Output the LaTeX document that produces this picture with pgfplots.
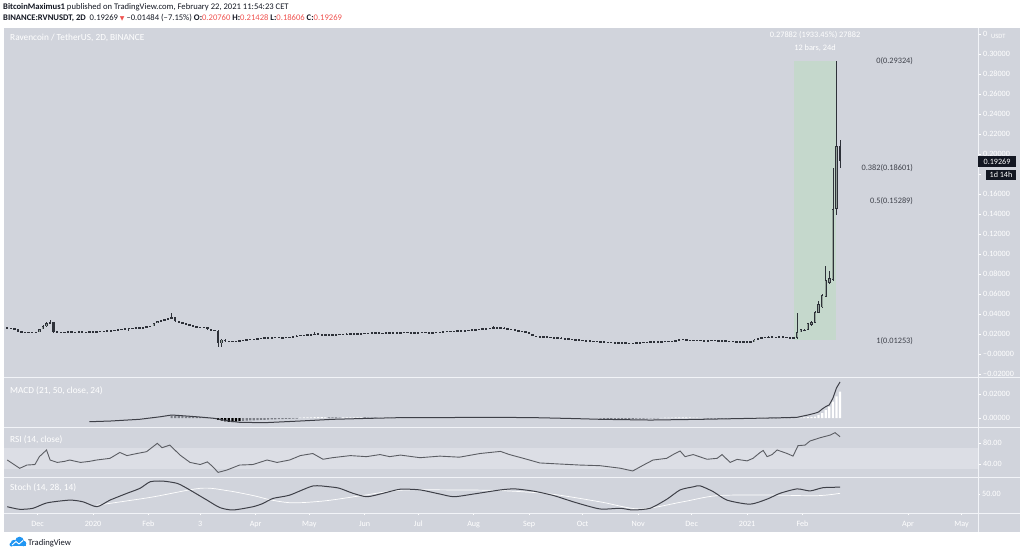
\documentclass[border=0pt]{standalone}
\usepackage{fontspec}
\setmainfont{Carlito}
\newfontfamily\dejavu{DejaVu Sans}
\usepackage{pgfplots}
\usepackage{pgfplotstable}
\pgfplotsset{compat=1.18}

\definecolor{tvbg}{HTML}{D1D4DC}
\definecolor{tvband}{HTML}{DCDEE5}
\definecolor{candle}{HTML}{2E3139}
\definecolor{candlein}{HTML}{94A399}
\definecolor{fibgreen}{HTML}{C5D8CC}
\definecolor{tvred}{HTML}{EF5350}
\definecolor{tvdark}{HTML}{131722}
\definecolor{txtgray}{HTML}{3F424B}
\definecolor{indline}{HTML}{3E4048}
\definecolor{sepline}{HTML}{F2F4F8}
\definecolor{histgray}{HTML}{7C7F87}
\definecolor{tvblue}{HTML}{2196F3}

\newcommand\axfont{\fontsize{8.1}{9}\selectfont}
\newcommand\fibfont{\fontsize{8.3}{9}\selectfont}
\newcommand\hdrfont{\fontsize{8.6}{10}\selectfont}
\newcommand\lblfont{\fontsize{9.3}{10}\selectfont}

% candles: day (from 2020-01-01), open, high, low, close in thousandths of USDT
\pgfplotstableread{
d o h l c
-48 26.5 27.0 25.6 26.0
-46 26.0 26.4 25.1 25.5
-44 25.5 25.9 24.6 25.0
-42 25.0 25.4 22.1 22.5
-40 22.5 22.9 21.6 22.0
-38 22.0 22.4 21.1 21.5
-36 21.5 22.4 21.1 22.0
-34 22.0 22.4 21.4 21.8
-32 21.8 22.4 21.4 22.0
-30 22.0 25.5 21.6 25.0
-28 25.0 28.6 24.6 28.0
-26 28.0 31.6 27.5 31.0
-24 31.0 34.0 30.5 32.0
-22 32.0 32.5 21.5 22.0
-20 22.0 22.5 21.3 22.0
-18 22.0 22.4 21.1 21.5
-16 21.5 22.4 21.1 22.0
-14 22.0 22.7 21.6 22.3
-12 22.3 22.7 21.4 21.8
-10 21.8 22.4 21.4 22.0
-8 22.0 22.6 21.6 22.2
-6 22.2 22.6 21.3 21.7
-4 21.7 22.4 21.3 22.0
-2 22.0 22.9 21.6 22.5
0 22.5 22.9 21.8 22.2
2 22.2 23.2 21.8 22.8
4 22.8 23.2 22.1 22.5
6 22.5 23.4 22.1 23.0
8 23.0 23.7 22.6 23.3
10 23.3 24.0 22.9 23.5
12 23.5 24.4 23.1 24.0
14 24.0 25.4 23.6 25.0
16 25.0 25.4 24.1 24.5
18 24.5 25.9 24.1 25.5
20 25.5 26.4 23.0 26.0
22 26.0 26.4 25.3 25.7
24 25.7 26.6 25.3 26.2
26 26.2 26.6 25.6 26.0
28 26.0 27.2 25.6 26.8
30 26.8 27.9 26.4 27.5
32 27.5 28.4 27.1 28.0
34 28.0 31.5 27.6 31.0
36 31.0 33.5 30.6 33.0
38 33.0 34.5 32.6 34.0
40 34.0 35.5 33.6 35.0
42 35.0 36.5 34.6 36.0
44 36.0 40.7 35.6 37.0
46 37.0 37.5 32.5 33.0
48 33.0 33.5 31.5 32.0
50 32.0 32.5 30.5 31.0
52 31.0 31.5 29.0 29.5
54 29.5 30.0 28.5 29.0
56 29.0 29.5 27.0 27.5
58 27.5 28.0 26.5 27.0
60 27.0 27.5 26.0 26.5
62 26.5 27.5 26.1 27.0
64 27.0 27.5 24.5 25.0
66 25.0 25.5 23.5 24.0
68 24.0 24.5 22.8 23.3
70 23.3 23.8 7.3 10.7
72 10.7 15.0 6.7 14.5
74 14.5 15.0 12.5 13.0
76 13.0 13.5 12.0 12.5
78 12.5 13.4 12.1 13.0
80 13.0 13.4 12.4 12.8
82 12.8 13.9 12.4 13.5
84 13.5 14.4 13.1 14.0
86 14.0 14.9 13.6 14.5
88 14.5 15.4 14.1 15.0
90 15.0 15.4 14.3 14.7
92 14.7 15.7 14.3 15.3
94 15.3 16.4 14.9 16.0
96 16.0 16.9 15.6 16.5
98 16.5 16.9 15.6 16.0
100 16.0 16.9 15.6 16.5
102 16.5 17.2 16.1 16.8
104 16.8 17.2 15.9 16.3
106 16.3 17.1 15.9 16.7
108 16.7 17.4 16.3 17.0
110 17.0 17.4 16.4 16.8
112 16.8 17.6 16.4 17.2
114 17.2 18.9 16.8 18.5
116 18.5 19.4 18.1 19.0
118 19.0 19.4 18.3 18.7
120 18.7 19.9 18.3 19.5
122 19.5 19.9 18.8 19.2
124 19.2 22.3 18.8 20.5
126 20.5 20.9 19.1 19.5
128 19.5 19.9 18.6 19.0
130 19.0 19.4 18.6 19.0
132 19.0 19.9 18.6 19.5
134 19.5 19.9 18.8 19.2
136 19.2 20.2 18.8 19.8
138 19.8 20.4 19.4 20.0
140 20.0 20.4 19.2 19.6
142 19.6 20.6 19.2 20.2
144 20.2 20.9 19.8 20.5
146 20.5 20.9 19.6 20.0
148 20.0 20.7 19.6 20.3
150 20.3 20.9 19.9 20.5
152 20.5 21.4 20.1 21.0
154 21.0 21.4 20.3 20.7
156 20.7 21.6 20.3 21.2
158 21.2 21.9 20.8 21.5
160 21.5 21.9 20.6 21.0
162 21.0 21.4 20.4 20.8
164 20.8 21.7 20.4 21.3
166 21.3 22.1 20.9 21.7
168 21.7 22.1 20.8 21.2
170 21.2 21.6 20.6 21.0
172 21.0 21.9 20.6 21.5
174 21.5 22.4 21.1 22.0
176 22.0 22.4 21.2 21.6
178 21.6 22.0 20.9 21.3
180 21.3 21.7 20.6 21.0
182 21.0 21.8 20.6 21.4
184 21.4 22.2 21.0 21.8
186 21.8 22.2 21.1 21.5
188 21.5 21.9 20.8 21.2
190 21.2 22.0 20.8 21.6
192 21.6 22.4 21.2 22.0
194 22.0 22.4 21.4 21.8
196 21.8 22.7 21.4 22.3
198 22.3 23.2 21.9 22.8
200 22.8 23.2 22.1 22.5
202 22.5 23.4 22.1 23.0
204 23.0 23.9 22.6 23.5
206 23.5 23.9 22.8 23.2
208 23.2 24.2 22.8 23.8
210 23.8 24.4 23.4 24.0
212 24.0 24.9 23.6 24.5
214 24.5 24.9 23.8 24.2
216 24.2 25.4 23.8 25.0
218 25.0 25.9 24.6 25.5
220 25.5 25.9 24.8 25.2
222 25.2 26.4 24.8 26.0
224 26.0 28.0 25.6 26.5
226 26.5 26.9 25.6 26.0
228 26.0 26.7 25.6 26.3
230 26.3 26.7 25.1 25.5
232 25.5 25.9 24.6 25.0
234 25.0 25.4 24.1 24.5
236 24.5 24.9 23.1 23.5
238 23.5 23.9 22.6 23.0
240 23.0 23.4 22.1 22.5
242 22.5 22.9 21.6 22.0
244 22.0 22.4 19.6 20.0
246 20.0 20.4 17.6 18.0
248 18.0 18.4 17.1 17.5
250 17.5 17.9 16.6 17.0
252 17.0 17.7 16.6 17.3
254 17.3 17.7 16.4 16.8
256 16.8 17.2 16.1 16.5
258 16.5 16.9 15.6 16.0
260 16.0 16.7 15.6 16.3
262 16.3 16.7 15.1 15.5
264 15.5 15.9 14.8 15.2
266 15.2 15.6 14.6 15.0
268 15.0 15.4 14.1 14.5
270 14.5 14.9 13.8 14.2
272 14.2 14.6 13.6 14.0
274 14.0 14.4 13.1 13.5
276 13.5 13.9 12.8 13.2
278 13.2 13.6 12.6 13.0
280 13.0 13.4 12.4 12.8
282 12.8 13.2 12.1 12.5
284 12.5 12.9 11.9 12.3
286 12.3 12.7 11.6 12.0
288 12.0 12.4 11.4 11.8
290 11.8 12.2 11.1 11.5
292 11.5 11.9 10.9 11.3
294 11.3 11.7 10.6 11.0
296 11.0 11.6 10.6 11.2
298 11.2 11.6 10.6 11.0
300 11.0 11.4 10.4 10.8
302 10.8 11.4 10.4 11.0
304 11.0 11.7 10.6 11.3
306 11.3 11.9 10.9 11.5
308 11.5 12.2 11.1 11.8
310 11.8 12.4 11.4 12.0
312 12.0 12.6 11.6 12.2
314 12.2 12.9 11.8 12.5
316 12.5 12.9 11.9 12.3
318 12.3 13.1 11.9 12.7
320 12.7 13.4 12.3 13.0
322 13.0 13.4 12.4 12.8
324 12.8 13.4 12.4 13.0
326 13.0 14.4 12.6 14.0
328 14.0 15.5 13.6 15.0
330 15.0 15.4 14.1 14.5
332 14.5 14.9 13.6 14.0
334 14.0 14.4 13.4 13.8
336 13.8 14.4 13.4 14.0
338 14.0 14.4 13.1 13.5
340 13.5 14.1 13.1 13.7
342 13.7 14.1 12.8 13.2
344 13.2 13.9 12.8 13.5
346 13.5 14.2 13.1 13.8
348 13.8 14.2 12.9 13.3
350 13.3 13.7 12.6 13.0
352 13.0 13.6 12.6 13.2
354 13.2 13.6 12.6 13.0
356 13.0 13.4 12.4 12.8
358 12.8 13.2 12.1 12.5
360 12.5 12.9 11.8 12.2
362 12.2 12.9 11.8 12.5
364 12.5 12.9 11.6 12.0
366 12.0 12.7 11.6 12.3
368 12.3 12.9 11.9 12.5
370 12.5 14.9 12.1 14.5
372 14.5 16.4 14.1 16.0
374 16.0 17.4 15.6 17.0
376 17.0 17.4 16.1 16.5
378 16.5 17.7 16.1 17.3
380 17.3 17.7 16.4 16.8
382 16.8 17.4 16.4 17.0
384 17.0 17.9 16.6 17.5
386 17.5 17.9 16.6 17.0
388 17.0 17.4 16.1 16.5
390 16.5 16.9 15.8 16.2
392 16.2 16.6 15.4 15.8
394 15.8 40.7 15.4 22.3
396 22.3 25.5 21.8 24.7
398 23.0 25.3 22.6 24.5
400 24.5 31.0 24.0 30.7
402 29.0 33.0 28.5 32.3
404 31.3 43.0 30.8 42.3
406 41.3 53.0 40.8 49.7
408 46.7 60.0 46.2 59.0
410 57.3 88.0 56.8 74.0
412 71.0 83.0 70.5 76.0
414 74.0 186.0 73.0 145.0
416 145.0 293.24 139.0 207.6
418 207.6 214.28 186.06 192.69
}\candles

\pgfplotsset{
  pane/.style={
    scale only axis, width=974pt, xmin=-49.8, xmax=495.2,
    anchor=south west,
    axis line style={draw=none},
    xtick=\empty,
    ytick pos=right,
    yticklabel pos=right,
    scaled y ticks=false, scaled x ticks=false,
    tick align=outside,
    major tick length=3pt,
    tick style={draw=white, line width=0.5pt},
    yticklabel style={font=\axfont, text=white, anchor=west, inner sep=0pt, xshift=2pt},
    xticklabel style={font=\axfont, text=white},
    clip=true,
  },
  errbar/.style 2 args={draw=none, mark=none, forget plot,
    error bars/.cd, y dir=both, y explicit, error mark=none,
    error bar style={draw=#1, line width=#2, line cap=butt, solid}},
}

\begin{document}
\begin{tikzpicture}
\useasboundingbox (0,0) rectangle (1024pt,555pt);
\fill[tvbg] (4pt,23.5pt) rectangle (1019.5pt,527pt);

% ---------------- main price pane
\begin{axis}[pane, at={(4pt,177.5pt)}, height=349.5pt,
  ymin=-0.0235, ymax=0.326,
  ytick={-0.02,0,0.02,0.04,0.06,0.08,0.10,0.12,0.14,0.16,0.18,0.20,0.22,0.24,0.26,0.28,0.30,0.32},
  yticklabels={–0.02000,–0.00000,0.02000,0.04000,0.06000,0.08000,0.10000,0.12000,0.14000,0.16000,{},0.20000,0.22000,0.24000,0.26000,0.28000,0.30000,0}]
\fill[fibgreen] (axis cs:392,0.01442) rectangle (axis cs:416,0.29324);
\addplot[errbar={candle}{0.6pt}] table[x=d, y expr={(\thisrow{h}+\thisrow{l})/2000}, y error expr={(\thisrow{h}-\thisrow{l})/2000}] {\candles};
\addplot[errbar={candle}{2.4pt}] table[x=d, y expr={(\thisrow{o}+\thisrow{c})/2000}, y error expr={max(abs(\thisrow{c}-\thisrow{o})/2000,0.0006)}] {\candles};
\addplot[errbar={candlein}{1.0pt}] table[x=d, y expr={(\thisrow{o}+\thisrow{c})/2000}, y error expr={max((\thisrow{c}-\thisrow{o})/2000-0.0008,0)}] {\candles};
\node[anchor=east, inner sep=0pt, font=\fibfont, text=txtgray] at (axis cs:458.9,0.29324) {0(0.29324)};
\node[anchor=east, inner sep=0pt, font=\fibfont, text=txtgray] at (axis cs:458.9,0.18601) {0.382(0.18601)};
\node[anchor=east, inner sep=0pt, font=\fibfont, text=txtgray] at (axis cs:458.9,0.15289) {0.5(0.15289)};
\node[anchor=east, inner sep=0pt, font=\fibfont, text=txtgray] at (axis cs:458.9,0.01253) {1(0.01253)};
\node[inner sep=0pt, font=\fibfont, text=white] at (axis cs:404,0.319) {0.27882 (1933.45\%) 27882};
\node[inner sep=0pt, font=\fibfont, text=white] at (axis cs:404,0.3063) {12 bars, 24d};
\end{axis}

% ---------------- MACD pane
\begin{axis}[pane, at={(4pt,127.7pt)}, height=49.8pt,
  ymin=-0.00775, ymax=0.03375,
  ytick={0,0.02}, yticklabels={0.00000,0.02000}]
\addplot[ybar, bar width=2.2pt, bar shift=0pt, fill=histgray, draw=none] coordinates {
(44,0.0020) (46,0.0018) (48,0.0016) (50,0.0015) (52,0.0013) (54,0.0012) (56,0.0010) (58,0.0009) (60,0.0008) (62,0.0006) (64,0.0004) (66,0.0002)
(84,-0.0024) (86,-0.0022) (88,-0.0020) (90,-0.0019) (92,-0.0017) (94,-0.0016) (96,-0.0015) (98,-0.0014) (100,-0.0012) (102,-0.0011) (104,-0.0010) (106,-0.0009) (108,-0.0008) (110,-0.0007) (112,-0.0006) (114,-0.0005)
(132,0.0006) (134,0.0005) (136,0.0005) (138,0.0004) (152,0.0005) (154,0.0004) (156,0.0004) (158,0.0003)
(284,-0.0006) (286,-0.0007) (288,-0.0008) (290,-0.0008) (292,-0.0009) (294,-0.0009) (296,-0.0008) (298,-0.0008) (300,-0.0007) (302,-0.0007) (304,-0.0006) (306,-0.0005) (308,-0.0005) (310,-0.0004) (312,-0.0004) (314,-0.0003) (316,-0.0003)
(342,-0.0004) (344,-0.0005) (346,-0.0005) (348,-0.0005) (350,-0.0006) (352,-0.0006) (354,-0.0005) (356,-0.0005) (358,-0.0005) (360,-0.0004) (362,-0.0004) (364,-0.0004) (366,-0.0003)
(378,-0.0003) (380,-0.0003) (382,-0.0003) (384,-0.0002) (386,-0.0002) (388,-0.0002) (390,-0.0002) (392,-0.0001)
};
\addplot[ybar, bar width=2.2pt, bar shift=0pt, fill=black, draw=none] coordinates {
(68,-0.0008) (70,-0.0015) (72,-0.0022) (74,-0.0028) (76,-0.0032) (78,-0.0034) (80,-0.0031) (82,-0.0027)
};
\addplot[ybar, bar width=2.2pt, bar shift=0pt, fill=white, draw=none] coordinates {
(116,0.0004) (118,0.0005) (120,0.0006) (122,0.0006) (124,0.0007) (126,0.0007) (128,0.0007) (130,0.0006)
(140,0.0005) (142,0.0005) (144,0.0006) (146,0.0006) (148,0.0005) (150,0.0005)
(160,0.0004) (162,0.0004) (164,0.0005) (166,0.0005) (168,0.0004) (170,0.0004) (172,0.0003)
(318,0.0002) (320,0.0003) (322,0.0004) (324,0.0004) (326,0.0005) (328,0.0006) (330,0.0006) (332,0.0005) (334,0.0005) (336,0.0004) (338,0.0003) (340,0.0002)
(368,0.0002) (370,0.0003) (372,0.0004) (374,0.0004) (376,0.0003)
(394,0.0002) (396,0.0003) (398,0.0005) (400,0.0007) (402,0.0009) (404,0.0012) (406,0.0024) (408,0.0040) (410,0.0065) (412,0.0095) (414,0.0136) (416,0.0180) (418,0.0220)
};
\addplot[indline, line width=1pt] coordinates {
(-2,-0.0031) (10,-0.0025) (26,-0.0011) (38,0.0011) (44,0.0025) (50,0.0019) (60,0.0008) (68,-0.0003) (76,-0.0025) (82,-0.0036) (96,-0.0039) (116,-0.0025) (134,-0.0011) (154,-0.0003) (172,0.0003) (200,0.0004) (226,0.0006) (250,0.0002) (270,-0.0005) (284,-0.0011) (312,-0.0017) (340,-0.0011) (368,-0.0003) (388,0.0003) (394,0.0006) (400,0.0025) (404,0.0040) (406,0.0050) (408,0.0075) (410,0.0095) (412,0.0110) (414,0.0165) (416,0.0250) (418,0.0300)
};
\end{axis}

% ---------------- RSI pane
\begin{axis}[pane, at={(4pt,77.7pt)}, height=50pt,
  ymin=14.67, ymax=109.9,
  ytick={40,80}, yticklabels={40.00,80.00}]
\fill[tvband] (axis cs:-49.8,30) rectangle (axis cs:495.2,70);
\addplot[indline!85!white, line width=0.9pt] coordinates {
(-48,47.6) (-41,31.8) (-37,38) (-32.5,39) (-30,54) (-26,66.7) (-24,47.6) (-20,43) (-16,45) (-13,47.6) (-7,43) (-2,45) (2,47.6) (9.5,50.8) (15,62) (19,56) (24.6,60) (30,63.5) (36,79.4) (38.6,71) (43,76) (48.7,57) (54.3,43) (60,39) (64,44) (67,35) (70,24) (75,28.6) (82,38) (89.5,39) (97.4,47.6) (103,43) (110,47.6) (116,56) (123,60) (128.7,49) (134,52) (144,56) (153,54) (160.6,58) (166,54) (172,57) (183,52) (194,55) (205,53) (216.6,60) (228,64) (233,58) (241.7,50) (250,42) (261,40) (272.5,38) (283.7,36.8) (295,32) (302,26.7) (308,38) (313.4,47.6) (321,50.8) (324.6,58) (328.5,64.8) (331.3,54) (335.8,58) (343.6,49) (349.2,50.8) (352,58) (356.5,43) (360.4,48.8) (366,46) (369.3,50.8) (373.3,62) (375,65.8) (377.2,54) (380,58) (382.8,66.7) (388.4,60) (391.7,55) (394.5,75) (398.4,76) (401.2,83.8) (406.8,90) (412.4,95) (415.2,99.7) (418,92)
};
\end{axis}

% ---------------- Stoch pane
\begin{axis}[pane, at={(4pt,41.7pt)}, height=36pt,
  ymin=-6.76, ymax=99.1,
  ytick={50}, yticklabels={50.00},
  xtick={-31,0,31,60,91,121,152,182,213,244,274,305,335,366,397,456,486},
  xticklabels={Dec,2020,Feb,3,Apr,May,Jun,Jul,Aug,Sep,Oct,Nov,Dec,2021,Feb,Apr,May},
  xtick pos=bottom, major tick length=2pt,
  xticklabel style={anchor=base, yshift=-11pt}]
\addplot[white, line width=0.7pt, smooth, tension=0.5] coordinates {
(2,17) (32,40) (60,66.7) (75,60) (90,45) (100,32) (112,24) (130,30) (150,45) (172,61) (200,62) (228,60) (256,50) (283.7,27) (306,6) (330,27) (349,45) (377,47) (405,45) (418,52)
};
\addplot[indline, line width=1pt, smooth, tension=0.4] coordinates {
(-48,12.6) (-41,5) (-33.6,8) (-25.7,24) (-13,32) (-5.6,27) (2.2,12.6) (9.5,32) (19,52) (26.3,66.7) (32,86) (39,88) (47,81.4) (52.6,66.7) (63.8,32) (71,10) (78.3,3) (89.5,12.6) (95,22) (100.7,37) (110,46.6) (123,73.5) (132.6,71) (138,66.7) (145.5,52) (153.3,42) (162.3,52) (171.8,64) (183,62) (194,50) (202,42) (213,50) (228,62) (236,65) (247,58) (258,45) (270,25) (283.7,6) (295,8) (302,3) (311.7,8) (321.2,35) (328.5,62) (335.8,71) (339.7,74) (347,57) (354.8,32) (367.6,20) (377.2,35) (384.4,52) (394,65) (401.2,59) (408.5,68.6) (418,70)
};
\end{axis}

% ---------------- separators
\draw[sepline, line width=0.8pt] (978pt,23.5pt) -- (978pt,527pt);
\foreach \yy in {177.5,127.7,77.7,41.7}
  \draw[sepline, line width=0.8pt] (4pt,\yy pt) -- (1019.5pt,\yy pt);

% ---------------- price tags
\node[anchor=west, inner sep=0pt, font=\fontsize{6.5}{7}\selectfont, text=white] at (991pt,518.3pt) {USDT};
\fill[tvdark] (977.5pt,388.3pt) rectangle (1016pt,398.7pt);
\node[font=\axfont, text=white, inner sep=0pt] at (997pt,393.5pt) {0.19269};
\fill[tvdark] (986pt,375pt) rectangle (1016pt,385.3pt);
\node[font=\axfont, text=white, inner sep=0pt] at (1001pt,380.2pt) {1d 14h};

% ---------------- texts
\node[anchor=base west, inner sep=0pt, font=\hdrfont, text=tvdark] at (3pt,545.3pt)
  {\textbf{BitcoinMaximus1} published on TradingView.com, February 22, 2021 11:54:23 CET};
\node[anchor=base west, inner sep=0pt, font=\hdrfont, text=tvdark] at (3pt,534.6pt)
  {\textbf{BINANCE:RVNUSDT, 2D}\ \ 0.19269 {\dejavu\fontsize{6}{6}\selectfont\color{tvred}▼} –0.01484 (–7.15\%) \textbf{O:}\textcolor{tvred}{0.20760} \textbf{H:}\textcolor{tvred}{0.21428} \textbf{L:}\textcolor{tvred}{0.18606} \textbf{C:}\textcolor{tvred}{0.19269}};
\node[anchor=base west, inner sep=0pt, font=\lblfont, text=white] at (10pt,514.3pt) {Ravencoin / TetherUS, 2D, BINANCE};
\node[anchor=base west, inner sep=0pt, font=\lblfont, text=white] at (10pt,162pt) {MACD (21, 50, close, 24)};
\node[anchor=base west, inner sep=0pt, font=\lblfont, text=white] at (10pt,113pt) {RSI (14, close)};
\node[anchor=base west, inner sep=0pt, font=\lblfont, text=white] at (10pt,64.3pt) {Stoch (14, 28, 14)};

% ---------------- logo
\fill[tvblue] (10pt,9pt) rectangle (26pt,12pt);
\fill[tvblue] (14pt,12pt) circle (3.2pt);
\fill[tvblue] (19.5pt,14pt) circle (4.3pt);
\fill[tvblue] (23.5pt,11.5pt) circle (2.8pt);
\fill[tvblue] (11.5pt,10.5pt) circle (2pt);
\draw[white, line width=0.9pt] (12pt,10pt) -- (16pt,13.5pt) -- (19pt,11pt) -- (23pt,14.5pt);
\node[anchor=base west, inner sep=0pt, font=\fontsize{8.6}{10}\selectfont, text=tvdark] at (28pt,10pt) {TradingView};
\end{tikzpicture}
\end{document}
